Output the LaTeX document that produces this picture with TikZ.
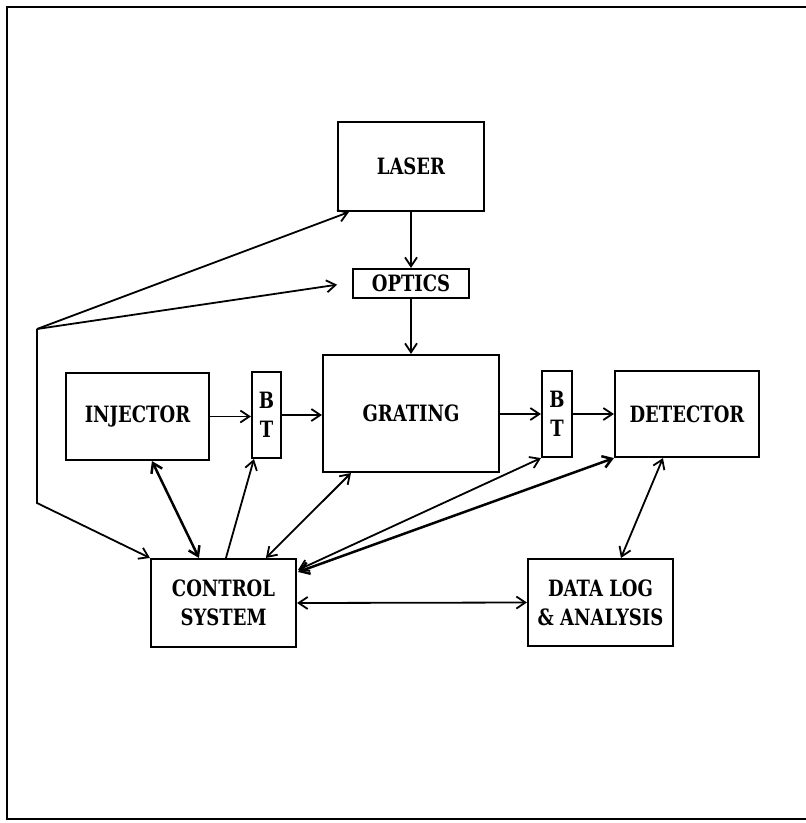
\documentclass[tikz,border=0pt]{standalone}
\usepackage{fontspec}
\newfontfamily\labfont[FakeStretch=0.8]{DejaVu Serif}
\usetikzlibrary{arrows.meta,calc}
\begin{document}
\begin{tikzpicture}[x=1pt,y=-1pt,
  box/.style={draw,line width=2.1pt,inner sep=0pt,align=center,
    font=\labfont\bfseries\fontsize{22.5}{29}\selectfont},
  conn/.style={line width=1.8pt},
  thickconn/.style={line width=2.5pt},
  >={Straight Barb[length=9pt,width=12pt]}]
\useasboundingbox (0,0) rectangle (806,823);
% frame
\draw[line width=2pt] (806,7) -- (7,7) -- (7,819) -- (806,819);
% boxes
\node[box,minimum width=146pt,minimum height=89pt] (laser) at (411,166.5) {LASER};
\node[box,minimum width=116pt,minimum height=29pt] (optics) at (411,283.5) {OPTICS};
\node[box,minimum width=176pt,minimum height=117pt] (grating) at (411,413.5) {GRATING};
\node[box,minimum width=143pt,minimum height=87pt] (injector) at (137.5,416.5) {INJECTOR};
\node[box,minimum width=29pt,minimum height=86pt] (bt1) at (266.5,415) {B\\T};
\node[box,minimum width=30pt,minimum height=86pt] (bt2) at (557,414) {B\\T};
\node[box,minimum width=144pt,minimum height=86pt] (detector) at (687,414) {DETECTOR};
\node[box,minimum width=145pt,minimum height=88pt] (control) at (223.5,603) {CONTROL\\SYSTEM};
\node[box,minimum width=145pt,minimum height=87pt] (datalog) at (600.5,602.5) {DATA LOG\\\& ANALYSIS};
% branch points
\coordinate (br) at (37,329);
\coordinate (brb) at (37,503);
% connectors
\draw[conn,->] (laser) -- (optics);
\draw[conn,->] (optics) -- (grating);
\draw[conn,->] (injector.east) -- (injector.east -| bt1.west);
\draw[conn,->] (bt1.east) -- (bt1.east -| grating.west);
\draw[conn,->] (grating.east |- bt2.west) -- (bt2.west);
\draw[conn,->] (bt2.east) -- (detector.west);
\draw[conn,->] (br) -- ($(laser.south west)+(12,0)$);
\draw[conn,->,shorten >=15pt] (br) -- ($(optics.west)+(0,-1)$);
\draw[conn,->] (br) -- (brb) -- (control.north west);
\draw[thickconn,<->] ($(injector.south west)+(87,0)$) -- ($(control.north west)+(49,0)$);
\draw[conn,->] ($(control.north west)+(76,0)$) -- ($(bt1.south west)+(3,0)$);
\draw[conn,<->] ($(control.north west)+(116,0)$) -- ($(grating.south west)+(29,0)$);
\draw[conn,<->] ($(control.north east)+(1,12)$) -- (bt2.south west);
\draw[thickconn,<->] ($(control.north east)+(1,14)$) -- (detector.south west);
\draw[conn,<->] ($(detector.south west)+(49,0)$) -- ($(datalog.north west)+(94,0)$);
\draw[conn,<->] (control.east) -- (datalog.west);
\end{tikzpicture}
\end{document}
